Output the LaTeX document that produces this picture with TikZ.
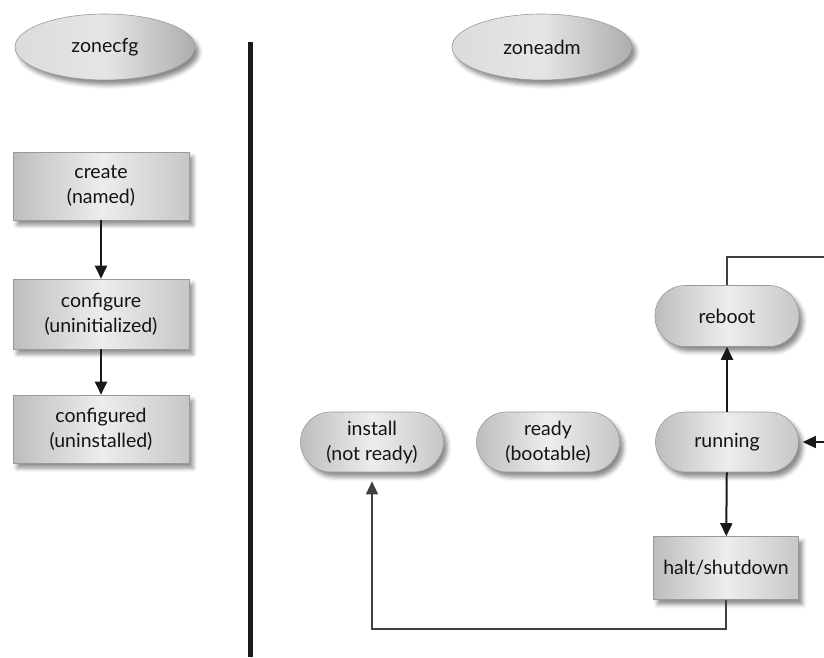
\documentclass[tikz,border=0pt]{standalone}
\usepackage{fontspec}
\setmainfont{Lato}
\usetikzlibrary{arrows.meta,shadows.blur,shapes.geometric}
\begin{document}
\begin{tikzpicture}[x=1pt,y=-1pt,
  base/.style={draw=black!40, line width=0.6pt, text=black!92, align=center, inner sep=0pt,
    font=\fontsize{19.5}{25}\selectfont,
    blur shadow={shadow xshift=4pt, shadow yshift=-5pt, shadow blur radius=4pt, shadow opacity=45}},
  boxfill/.style={left color=black!26, right color=black!22, middle color=black!7},
  sqbox/.style={base, boxfill, rectangle},
  pill/.style={base, boxfill, rectangle, rounded corners=30pt},
  oval/.style={base, ellipse, left color=black!14, right color=black!32, middle color=black!10,
    minimum width=180pt, minimum height=66pt},
  arr/.style={line width=2pt, black!90, -{Triangle[length=13pt,width=12pt]}},
  loopline/.style={line width=1.4pt, black!75},
]
\useasboundingbox (0,0) rectangle (824,657);

\node[oval] (zonecfg) at (105,47) {zonecfg};
\node[oval] (zoneadm) at (542,47) {zoneadm};

\draw[line width=5pt, black!90] (250,42) -- (250,657);

\node[sqbox, minimum width=176pt, minimum height=68pt] (create) at (101,186) {create\\(named)};
\node[sqbox, minimum width=176pt, minimum height=70pt] (configure) at (101,314) {configure\\(uninitialized)};
\node[sqbox, minimum width=176pt, minimum height=68pt] (configured) at (101,429) {configured\\(uninstalled)};

\draw[arr] (create) -- (configure);
\draw[arr] (configure) -- (configured);

\node[pill, minimum width=143pt, minimum height=60pt] (install) at (372,442) {install\\(not ready)};
\node[pill, minimum width=143pt, minimum height=60pt] (ready) at (548,442) {ready\\(bootable)};
\node[pill, minimum width=143pt, minimum height=60pt] (running) at (727,442) {running};
\node[pill, minimum width=144pt, minimum height=61pt] (reboot) at (727,316) {reboot};
\node[sqbox, minimum width=145pt, minimum height=63pt] (halt) at (726,568) {halt/shutdown};

\draw[arr] (running) -- (reboot);
\draw[arr] (running) -- (halt);

\coordinate (lb) at (372,629);
\draw[loopline, -{Triangle[length=13pt,width=12pt]}, shorten >=9pt] (halt.south) |- (lb) -- (install.south);

\coordinate (rr) at (824,257);
\draw[loopline] (reboot.north) |- (rr);

\coordinate (ri) at (824,442);
\draw[line width=1.4pt, black!90, -{Triangle[length=13pt,width=12pt]}, shorten >=4pt] (ri) -- (running.east);
\end{tikzpicture}
\end{document}
